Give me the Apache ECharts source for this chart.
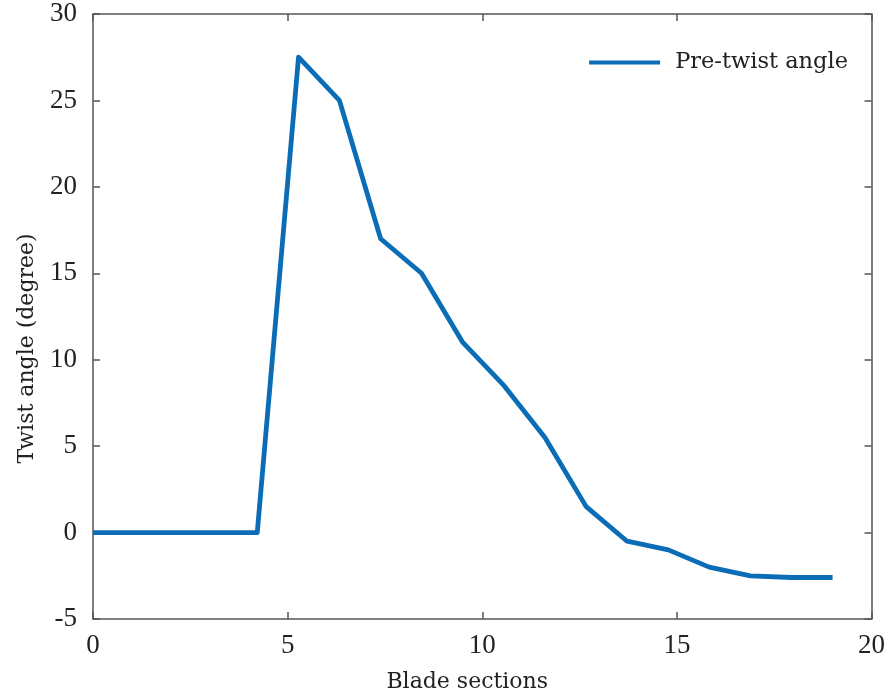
<!DOCTYPE html>
<html>
<head>
<meta charset="utf-8">
<script src="https://cdn.jsdelivr.net/npm/echarts@6/dist/echarts.min.js"></script>
<style>
	html, body { margin: 0; padding: 0; background: #fff; }
	#chart { width: 888px; height: 698px; }
</style>
</head>
<body>
<div id="chart"></div>
<script>
// blade section positions and pre-twist angle values
const sections = [0, 1.06, 2.11, 3.17, 4.22, 5.28, 6.33, 7.39, 8.44, 9.5, 10.56, 11.61, 12.67, 13.72, 14.78, 15.83, 16.89, 17.94, 19]
const twist = [0, 0, 0, 0, 0, 27.5, 25, 17, 15, 11, 8.5, 5.5, 1.5, -0.5, -1, -2, -2.5, -2.6, -2.6]
const xTicks = [0, 5, 10, 15, 20]
const yTicks = [-5, 0, 5, 10, 15, 20, 25, 30]

const numFont = 'Liberation Serif'
const textFont = 'DejaVu Serif'
const axisColor = '#555'
const textColor = '#222'

const points = sections.map((x, i) => [x, twist[i]])

const chart = echarts.init(document.getElementById('chart'))

const frameAxis = {
	axisLine: { show: true, onZero: false, lineStyle: { color: axisColor, width: 1.5 } },
	axisTick: { show: true, inside: true, length: 7, lineStyle: { color: axisColor, width: 1.5 } },
	splitLine: { show: false },
}

chart.setOption({
	animation: false,
	legend: {
		right: 35,
		top: 46,
		itemWidth: 71,
		itemHeight: 4,
		icon: 'rect',
		textStyle: { fontFamily: textFont, fontSize: 22.5, color: textColor, padding: [0, 0, 0, 10] },
		data: ['Pre-twist angle'],
	},
	grid: { left: 93, right: 14, top: 14, bottom: 79 },
	xAxis: [
		{
			type: 'value',
			min: 0,
			max: 20,
			interval: 5,
			name: 'Blade sections',
			nameLocation: 'middle',
			nameGap: 52,
			nameTextStyle: { fontFamily: textFont, fontSize: 22, color: textColor, padding: [0, 30, 0, 0] },
			axisLabel: { fontFamily: numFont, fontSize: 27, color: textColor, margin: 13,
				formatter: (v) => xTicks.includes(v) ? String(v) : '' },
			...frameAxis,
		},
		{
			type: 'value',
			position: 'top',
			min: 0,
			max: 20,
			interval: 5,
			axisLabel: { show: false },
			...frameAxis,
		},
	],
	yAxis: [
		{
			type: 'value',
			min: -5,
			max: 30,
			interval: 5,
			name: 'Twist angle (degree)',
			nameLocation: 'middle',
			nameGap: 55,
			nameTextStyle: { fontFamily: textFont, fontSize: 22, color: textColor, padding: [0, 64, 0, 0] },
			axisLabel: { fontFamily: numFont, fontSize: 27, color: textColor, margin: 16,
				formatter: (v) => yTicks.includes(v) ? String(v) : '' },
			...frameAxis,
		},
		{
			type: 'value',
			position: 'right',
			min: -5,
			max: 30,
			interval: 5,
			axisLabel: { show: false },
			...frameAxis,
		},
	],
	series: [
		{
			name: 'Pre-twist angle',
			type: 'line',
			data: points,
			showSymbol: false,
			symbol: 'none',
			color: '#0a6db6',
			lineStyle: { width: 4.8, color: '#0a6db6', join: 'round' },
		},
	],
})
</script>
</body>
</html>
